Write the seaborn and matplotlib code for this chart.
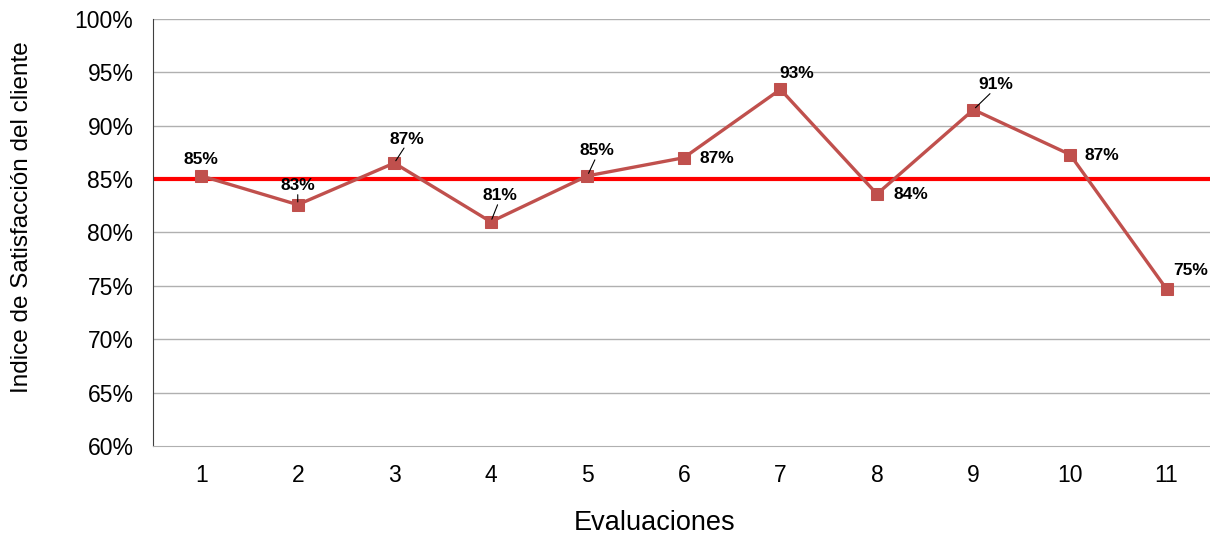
import pandas as pd
import numpy as np
import matplotlib
matplotlib.use("Agg")
import matplotlib.pyplot as plt
import seaborn as sns

evaluaciones = [1, 2, 3, 4, 5, 6, 7, 8, 9, 10, 11]
indice = [85.3, 82.6, 86.5, 81.0, 85.3, 87.0, 93.4, 83.6, 91.5, 87.3, 74.7]
etiquetas = ["85%", "83%", "87%", "81%", "85%", "87%", "93%", "84%", "91%", "87%", "75%"]
meta = 85
y_ticks = [60, 65, 70, 75, 80, 85, 90, 95, 100]

# label offsets in pixels (dx, dy) and whether a leader line is drawn
offsets = [(0, 16), (0, 19), (13, 24), (9, 26), (10, 25), (33, -1),
           (16, 16), (34, 0), (22, 25), (32, -1), (24, 19)]
leader = [False, True, True, True, True, False, False, False, True, False, False]

sns.set_style("white")
plt.rcParams['font.family'] = ['Liberation Sans', 'DejaVu Sans']
plt.rcParams['text.color'] = 'black'

dataset = pd.DataFrame({"Evaluaciones": evaluaciones, "Indice": indice})

fig = plt.figure(figsize=(12.1, 5.4), dpi=100)
ax = fig.add_axes([0.1264, 0.174, 0.8736, 0.791])

for t in y_ticks[1:]:
    ax.axhline(t, color='#B0B0B0', lw=1, zorder=0)

ax.axhline(meta, color='#FF0000', lw=3.0, zorder=1)

sns.lineplot(data=dataset, x="Evaluaciones", y="Indice", ax=ax, color='#C0504D',
             lw=2.4, marker='s', markersize=8, markeredgecolor='#C0504D', zorder=3)

for x, y, lab, (dx, dy), ld in zip(evaluaciones, indice, etiquetas, offsets, leader):
    ax.annotate(lab, (x, y), xytext=(dx, dy), textcoords='offset pixels',
                ha='center', va='center', fontsize=12.5, fontweight='bold',
                color='black', zorder=4)
    if ld:
        ax.annotate("", (x, y), xytext=(dx * 0.75, dy - 9), textcoords='offset pixels',
                    arrowprops=dict(arrowstyle='-', color='black', lw=0.8,
                                    shrinkA=0, shrinkB=2), zorder=4)

ax.set_xlim(0.5, 11.45)
ax.set_ylim(60, 100)
ax.set_xticks(evaluaciones)
ax.set_xticklabels([str(e) for e in evaluaciones])
ax.set_yticks(y_ticks)
ax.set_yticklabels([f"{t}%" for t in y_ticks])
ax.tick_params(axis='y', length=5, width=1, color='#404040', labelsize=16.5,
               pad=9, labelcolor='black')
ax.tick_params(axis='x', length=0, labelsize=16.5, pad=13, labelcolor='black')

for s in ['top', 'right']:
    ax.spines[s].set_visible(False)
ax.spines['left'].set_color('#404040')
ax.spines['bottom'].set_color('#B0B0B0')

ax.set_xlabel("")
ax.set_ylabel("")
fig.text(655 / 1210, 1 - 523 / 540, "Evaluaciones", fontsize=19.5,
         ha='center', va='center')
fig.text(22 / 1210, 1 - 217 / 540, "Indice de Satisfacción del cliente",
         fontsize=17.5, rotation=90, ha='center', va='center')

fig.savefig("out.png", dpi=100)
